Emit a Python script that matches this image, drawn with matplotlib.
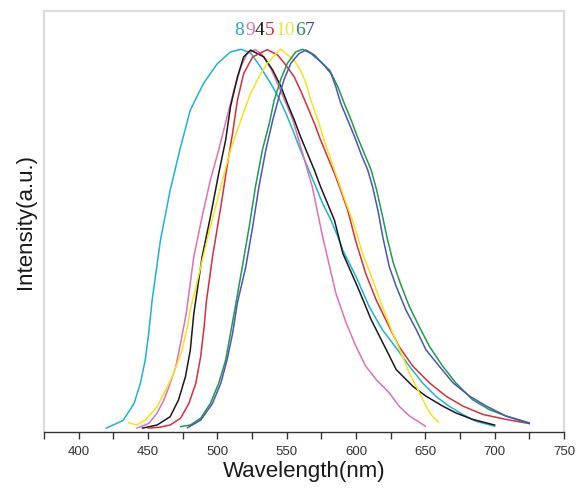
#! /usr/bin/env python3
# -*- coding: utf-8 -*-
import matplotlib
matplotlib.use('Agg')
import matplotlib.pyplot as plt
from matplotlib.ticker import MultipleLocator

plt.rcParams['font.family'] = ['Liberation Sans', 'DejaVu Sans']

# normalized emission spectra, sample -> (wavelength nm, intensity)
wl_8 = [420, 432, 440, 444.5, 448, 450.5, 453, 459, 466, 473.5, 480.5, 490, 500, 509.5, 517, 524, 531, 538.5,
        544.5, 549.5, 554.5, 559, 564, 570, 576, 582, 587, 590.5, 600, 609.5, 619, 629, 638.5, 648, 657.5,
        667, 677, 686.5, 700]
it_8 = [0.0, 0.02, 0.065, 0.118, 0.179, 0.249, 0.337, 0.495, 0.626, 0.74, 0.837, 0.907, 0.959, 0.99, 0.997,
        0.988, 0.951, 0.907, 0.868, 0.828, 0.784, 0.74, 0.697, 0.644, 0.591, 0.547, 0.503, 0.468, 0.399, 0.32,
        0.259, 0.211, 0.163, 0.119, 0.084, 0.058, 0.036, 0.018, 0.005]

wl_9 = [442, 450.5, 456.5, 461.5, 466, 470, 473.5, 477.5, 483, 489, 495, 501, 507, 512, 517, 521.5, 527.5,
        532.5, 538.5, 544.5, 549.5, 554.5, 558, 561.5, 565, 568.5, 571, 573.5, 576, 581, 585.5, 593, 600,
        607, 614.5, 624, 631, 638.5, 648, 650]
it_9 = [0.0, 0.012, 0.039, 0.074, 0.118, 0.161, 0.223, 0.3, 0.45, 0.556, 0.653, 0.732, 0.819, 0.889, 0.951,
        0.986, 0.996, 0.982, 0.947, 0.898, 0.855, 0.811, 0.767, 0.723, 0.679, 0.635, 0.591, 0.547, 0.503,
        0.425, 0.355, 0.276, 0.215, 0.163, 0.128, 0.093, 0.058, 0.032, 0.01, 0.005]

wl_4 = [446, 456.5, 466, 472, 477, 480.5, 483, 489, 495, 501, 506, 509.5, 514.5, 519, 524, 533.5, 540, 546,
        550.5, 555.5, 560, 565, 570, 574.5, 579.5, 584.5, 590.5, 601, 611, 623, 629, 641, 650.5, 662.5, 672,
        684, 700]
it_4 = [0.0, 0.008, 0.03, 0.074, 0.135, 0.205, 0.3, 0.45, 0.556, 0.67, 0.758, 0.846, 0.924, 0.977, 0.995,
        0.977, 0.942, 0.898, 0.855, 0.811, 0.767, 0.723, 0.679, 0.635, 0.591, 0.547, 0.46, 0.373, 0.285,
        0.198, 0.154, 0.11, 0.084, 0.058, 0.04, 0.023, 0.008]

wl_5 = [450, 458, 466, 473.5, 479.5, 484.5, 488, 490.5, 492, 496.5, 502.5, 507, 511, 514.5, 519, 525.5, 536,
        543.5, 549.5, 555.5, 560, 565, 570, 574.5, 579.5, 584.5, 589, 594, 600, 607, 614.5, 621.5, 631, 641,
        653, 665, 677, 691.5, 708, 725]
it_5 = [0.0, 0.002, 0.008, 0.026, 0.065, 0.118, 0.188, 0.267, 0.33, 0.45, 0.582, 0.688, 0.776, 0.863, 0.933,
        0.977, 0.996, 0.982, 0.955, 0.924, 0.889, 0.846, 0.802, 0.758, 0.714, 0.67, 0.626, 0.574, 0.49,
        0.407, 0.338, 0.285, 0.215, 0.163, 0.119, 0.084, 0.058, 0.036, 0.023, 0.012]

wl_10 = [436, 442, 448, 456.5, 464, 468.5, 474.5, 478.5, 480.5, 488, 495, 502.5, 509.5, 517, 524, 530, 536,
         543.5, 546, 549.5, 555.5, 560, 564, 567.5, 572.5, 577, 582, 587, 593, 597.5, 604.8, 612, 619, 626.5,
         632.5, 638.5, 644.5, 650.5, 655, 659.5]
it_10 = [0.014, 0.008, 0.021, 0.056, 0.109, 0.144, 0.205, 0.267, 0.311, 0.424, 0.53, 0.635, 0.732, 0.811,
         0.881, 0.924, 0.96, 0.99, 0.997, 0.986, 0.968, 0.942, 0.907, 0.863, 0.811, 0.758, 0.705, 0.653,
         0.591, 0.547, 0.46, 0.39, 0.32, 0.25, 0.198, 0.145, 0.102, 0.058, 0.032, 0.016]

wl_6 = [473.5, 480.5, 488, 495, 501, 506, 509.5, 513, 518, 523, 527.5, 532.5, 537.5, 541, 546, 550.5, 556.5,
        561.5, 567.5, 574.5, 581, 587, 591.5, 596.5, 601, 606, 611, 615, 619, 622.5, 627, 632, 638.5, 645.5,
        653, 662.5, 672, 684, 696, 708, 725]
it_6 = [0.004, 0.008, 0.026, 0.065, 0.118, 0.179, 0.249, 0.32, 0.424, 0.53, 0.635, 0.732, 0.802, 0.863, 0.92,
        0.96, 0.99, 0.997, 0.986, 0.964, 0.942, 0.898, 0.855, 0.811, 0.767, 0.723, 0.679, 0.625, 0.56, 0.5,
        0.434, 0.381, 0.32, 0.268, 0.215, 0.163, 0.119, 0.075, 0.049, 0.032, 0.014]

wl_7 = [478.5, 488, 496.5, 502.5, 507, 511, 514.5, 520.5, 525.5, 530, 535, 540, 544.5, 548, 553, 559, 564,
        570, 577, 582, 585.5, 589, 594, 599, 603.5, 608.5, 612, 616, 619.5, 624, 629, 636, 643.5, 650.5, 660,
        670, 682, 694, 708, 725]
it_7 = [0.001, 0.021, 0.065, 0.118, 0.179, 0.249, 0.33, 0.424, 0.53, 0.635, 0.732, 0.811, 0.872, 0.916, 0.96,
        0.986, 0.995, 0.982, 0.955, 0.933, 0.898, 0.855, 0.811, 0.767, 0.723, 0.679, 0.635, 0.57, 0.5,
        0.425, 0.373, 0.311, 0.259, 0.206, 0.163, 0.119, 0.084, 0.058, 0.032, 0.012]

sample_names = ['8', '9', '4', '5', '10', '6', '7']
sample_colors = ['#1cb4d4', '#e070b4', '#1a1a1a', '#d4303c', '#f8e21c', '#1f9a4e', '#4b55b5']
label_colors = ['#29a8cc', '#e070b0', '#111111', '#d0303e', '#f2e040', '#2e8a55', '#3d4a9c']
label_x = [515.6, 523.6, 530.3, 537.5, 548.8, 559.6, 566.3]
label_y = 1.047


def plot_spectra():
    fig = plt.figure(figsize=(5.79, 4.91), dpi=100)
    ax = fig.add_axes([0.076, 0.12, 0.898, 0.857])

    spectra = [(wl_8, it_8), (wl_9, it_9), (wl_4, it_4), (wl_5, it_5),
               (wl_10, it_10), (wl_6, it_6), (wl_7, it_7)]
    for (wl, it), color in zip(spectra, sample_colors):
        ax.plot(wl, it, color=color, lw=1.1)

    for name, x, color in zip(sample_names, label_x, label_colors):
        ax.text(x, label_y, name, color=color, fontsize=14, ha='center', va='center',
                family=['Liberation Serif', 'DejaVu Serif'])

    ax.set_xlim(375, 750)
    ax.set_ylim(-0.0105, 1.097)
    ax.xaxis.set_major_locator(MultipleLocator(50))
    ax.xaxis.set_minor_locator(MultipleLocator(25))
    ax.set_xticks([400, 450, 500, 550, 600, 650, 700, 750])
    ax.set_yticks([])
    ax.tick_params(axis='x', which='both', direction='out', length=5, width=1.0,
                   color='#333333', labelsize=9.5, labelcolor='#333333', pad=5)

    for side in ['left', 'top', 'right']:
        ax.spines[side].set_color('#dcdcdc')
        ax.spines[side].set_linewidth(1.6)
    ax.spines['bottom'].set_color('#333333')
    ax.spines['bottom'].set_linewidth(1.0)

    ax.set_xlabel('Wavelength(nm)', fontsize=16, color='#1a1a1a', labelpad=2)
    ax.set_ylabel('Intensity(a.u.)', fontsize=16, color='#1a1a1a', labelpad=6)

    fig.savefig('out.png', dpi=100)


def main():
    plot_spectra()


if __name__ == '__main__':
    main()
